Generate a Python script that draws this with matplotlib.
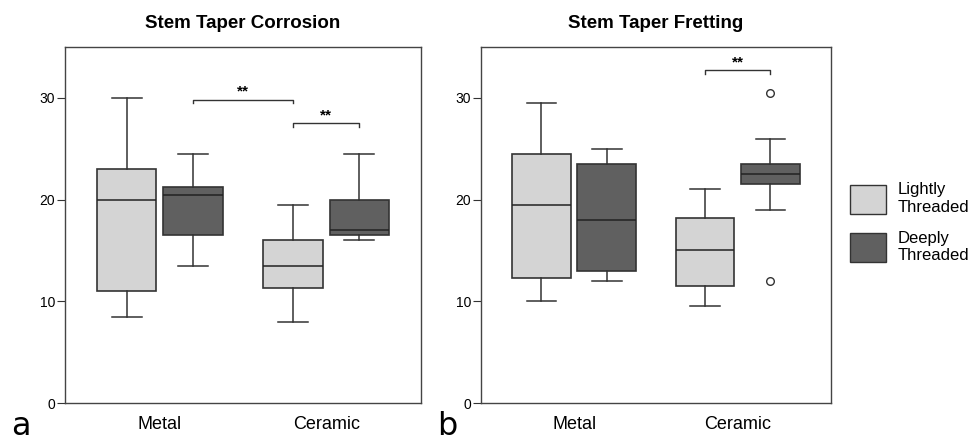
import matplotlib
matplotlib.use("Agg")
import matplotlib.pyplot as plt
from matplotlib.patches import Patch

plt.rcParams['font.family'] = ['Liberation Sans', 'DejaVu Sans']

groups = ["Metal", "Ceramic"]
series = ["Lightly\nThreaded", "Deeply\nThreaded"]
colors = ["#d4d4d4", "#606060"]

# box statistics, order: Metal-light, Metal-deep, Ceramic-light, Ceramic-deep
corr_whislo = [8.5, 13.5, 8.0, 16.0]
corr_q1 = [11.0, 16.5, 11.3, 16.5]
corr_med = [20.0, 20.5, 13.5, 17.0]
corr_q3 = [23.0, 21.2, 16.0, 20.0]
corr_whishi = [30.0, 24.5, 19.5, 24.5]
corr_fliers = [[], [], [], []]

fret_whislo = [10.0, 12.0, 9.5, 19.0]
fret_q1 = [12.3, 13.0, 11.5, 21.5]
fret_med = [19.5, 18.0, 15.0, 22.5]
fret_q3 = [24.5, 23.5, 18.2, 23.5]
fret_whishi = [29.5, 25.0, 21.0, 26.0]
fret_fliers = [[], [], [], [30.5, 12.0]]

# significance brackets: (box index left, box index right, height)
corr_sig = [(1, 2, 29.8), (2, 3, 27.5)]
fret_sig = [(2, 3, 32.7)]

positions = [0.8, 1.2, 1.8, 2.2]


def draw_panel(ax, title, whislo, q1, med, q3, whishi, fliers, sig):
    stats = []
    for i in range(4):
        stats.append(dict(whislo=whislo[i], q1=q1[i], med=med[i], q3=q3[i],
                          whishi=whishi[i], fliers=fliers[i]))
    bp = ax.bxp(stats, positions=positions, widths=0.36, patch_artist=True,
                showfliers=True,
                boxprops=dict(edgecolor="#333333", linewidth=1.2),
                medianprops=dict(color="#222222", linewidth=1.1),
                whiskerprops=dict(color="#333333", linewidth=1.1),
                capprops=dict(color="#333333", linewidth=1.1),
                capwidths=0.18,
                flierprops=dict(marker="o", markerfacecolor="white",
                                markeredgecolor="#333333", markersize=5.5))
    for i, box in enumerate(bp["boxes"]):
        box.set_facecolor(colors[i % 2])

    for a, b, h in sig:
        xa, xb = positions[a], positions[b]
        ax.plot([xa, xa, xb, xb], [h - 0.35, h, h, h - 0.35], color="#333333", lw=1.0)
        ax.text((xa + xb) / 2, h + 0.1, "**", ha="center", va="bottom",
                fontsize=11, fontweight="bold")

    ax.set_xlim(0.43, 2.57)
    ax.set_ylim(0, 35)
    ax.set_yticks([0, 10, 20, 30])
    ax.set_xticks([1, 2])
    ax.set_xticklabels(groups, fontsize=13)
    ax.tick_params(axis="x", length=0, pad=9)
    ax.tick_params(axis="y", length=5.5, pad=1.5, labelsize=10, color="#333333")
    for s in ax.spines.values():
        s.set_color("#444444")
        s.set_linewidth(1.0)
    ax.set_title(title, fontsize=13.5, fontweight="bold", pad=14)


fig = plt.figure(figsize=(9.73, 4.42), dpi=100)
ax1 = fig.add_axes([0.0668, 0.0882, 0.3659, 0.8054])
ax2 = fig.add_axes([0.4943, 0.0882, 0.3597, 0.8054])

draw_panel(ax1, "Stem Taper Corrosion", corr_whislo, corr_q1, corr_med, corr_q3,
           corr_whishi, corr_fliers, corr_sig)
draw_panel(ax2, "Stem Taper Fretting", fret_whislo, fret_q1, fret_med, fret_q3,
           fret_whishi, fret_fliers, fret_sig)

fig.text(0.011, 0.016, "a", fontsize=23, family="DejaVu Sans")
fig.text(0.449, 0.016, "b", fontsize=23, family="DejaVu Sans")

handles = [Patch(facecolor=colors[i], edgecolor="#333333", label=series[i]) for i in range(2)]
fig.legend(handles=handles, loc="center left", bbox_to_anchor=(0.874, 0.496),
           frameon=False, fontsize=12, handlelength=2.16, handleheight=2.3,
           labelspacing=0.95, handletextpad=0.65, borderaxespad=0, borderpad=0)

fig.savefig("out.png", dpi=100)
